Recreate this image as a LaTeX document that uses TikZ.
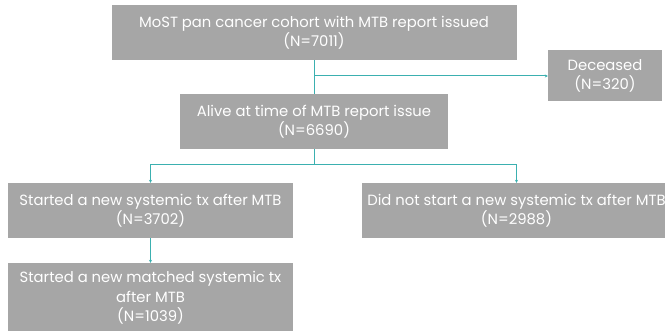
\documentclass[tikz,border=0pt]{standalone}
\usepackage{fontspec}
\setmainfont{Poppins}
\usetikzlibrary{arrows.meta}
\definecolor{boxgray}{HTML}{A6A6A6}
\definecolor{lineteal}{HTML}{3BB0B0}
\begin{document}
\begin{tikzpicture}[x=1pt,y=-1pt,
  box/.style={fill=boxgray, text=white, align=center, inner sep=0pt, font=\fontsize{14.8}{19.5}\selectfont},
  conn/.style={draw=lineteal, line width=1pt},
  arr/.style={conn,-{Stealth[length=3pt,width=3pt]}}]
\useasboundingbox (0,0) rectangle (665,331);
\clip (0,0) rectangle (665,331);
\node[box, minimum width=405pt, minimum height=55pt] (n1) at (314,32.5) {MoST pan cancer cohort with MTB report issued\\(N=7011)};
\node[box, minimum width=268pt, minimum height=55pt] (n2) at (314,121.5) {Alive at time of MTB report issue\\(N=6690)};
\node[box, minimum width=114pt, minimum height=51pt] (n3) at (605,76) {Deceased\\(N=320)};
\node[box, minimum width=285pt, minimum height=55pt] (n4) at (150.5,210.5) {Started a new systemic tx after MTB\\(N=3702)};
\node[box, minimum width=309pt, minimum height=55pt] (n5) at (516.5,210.5) {Did not start a new systemic tx after MTB\\(N=2988)};
\node[box, minimum width=285pt, minimum height=70pt] (n6) at (150.5,298) {Started a new matched systemic tx\\after MTB\\(N=1039)};
\coordinate (j1) at (314,76);
\coordinate (j2) at (314,165);
\draw[conn] (n1.south) -- (n2.north);
\draw[arr] (j1) -- (n3);
\draw[conn] (n2.south) -- (j2);
\draw[arr] (j2) -| (n4.north);
\draw[arr] (j2) -| (n5.north);
\draw[arr] (n4.south) -- (n6.north);
\end{tikzpicture}
\end{document}
